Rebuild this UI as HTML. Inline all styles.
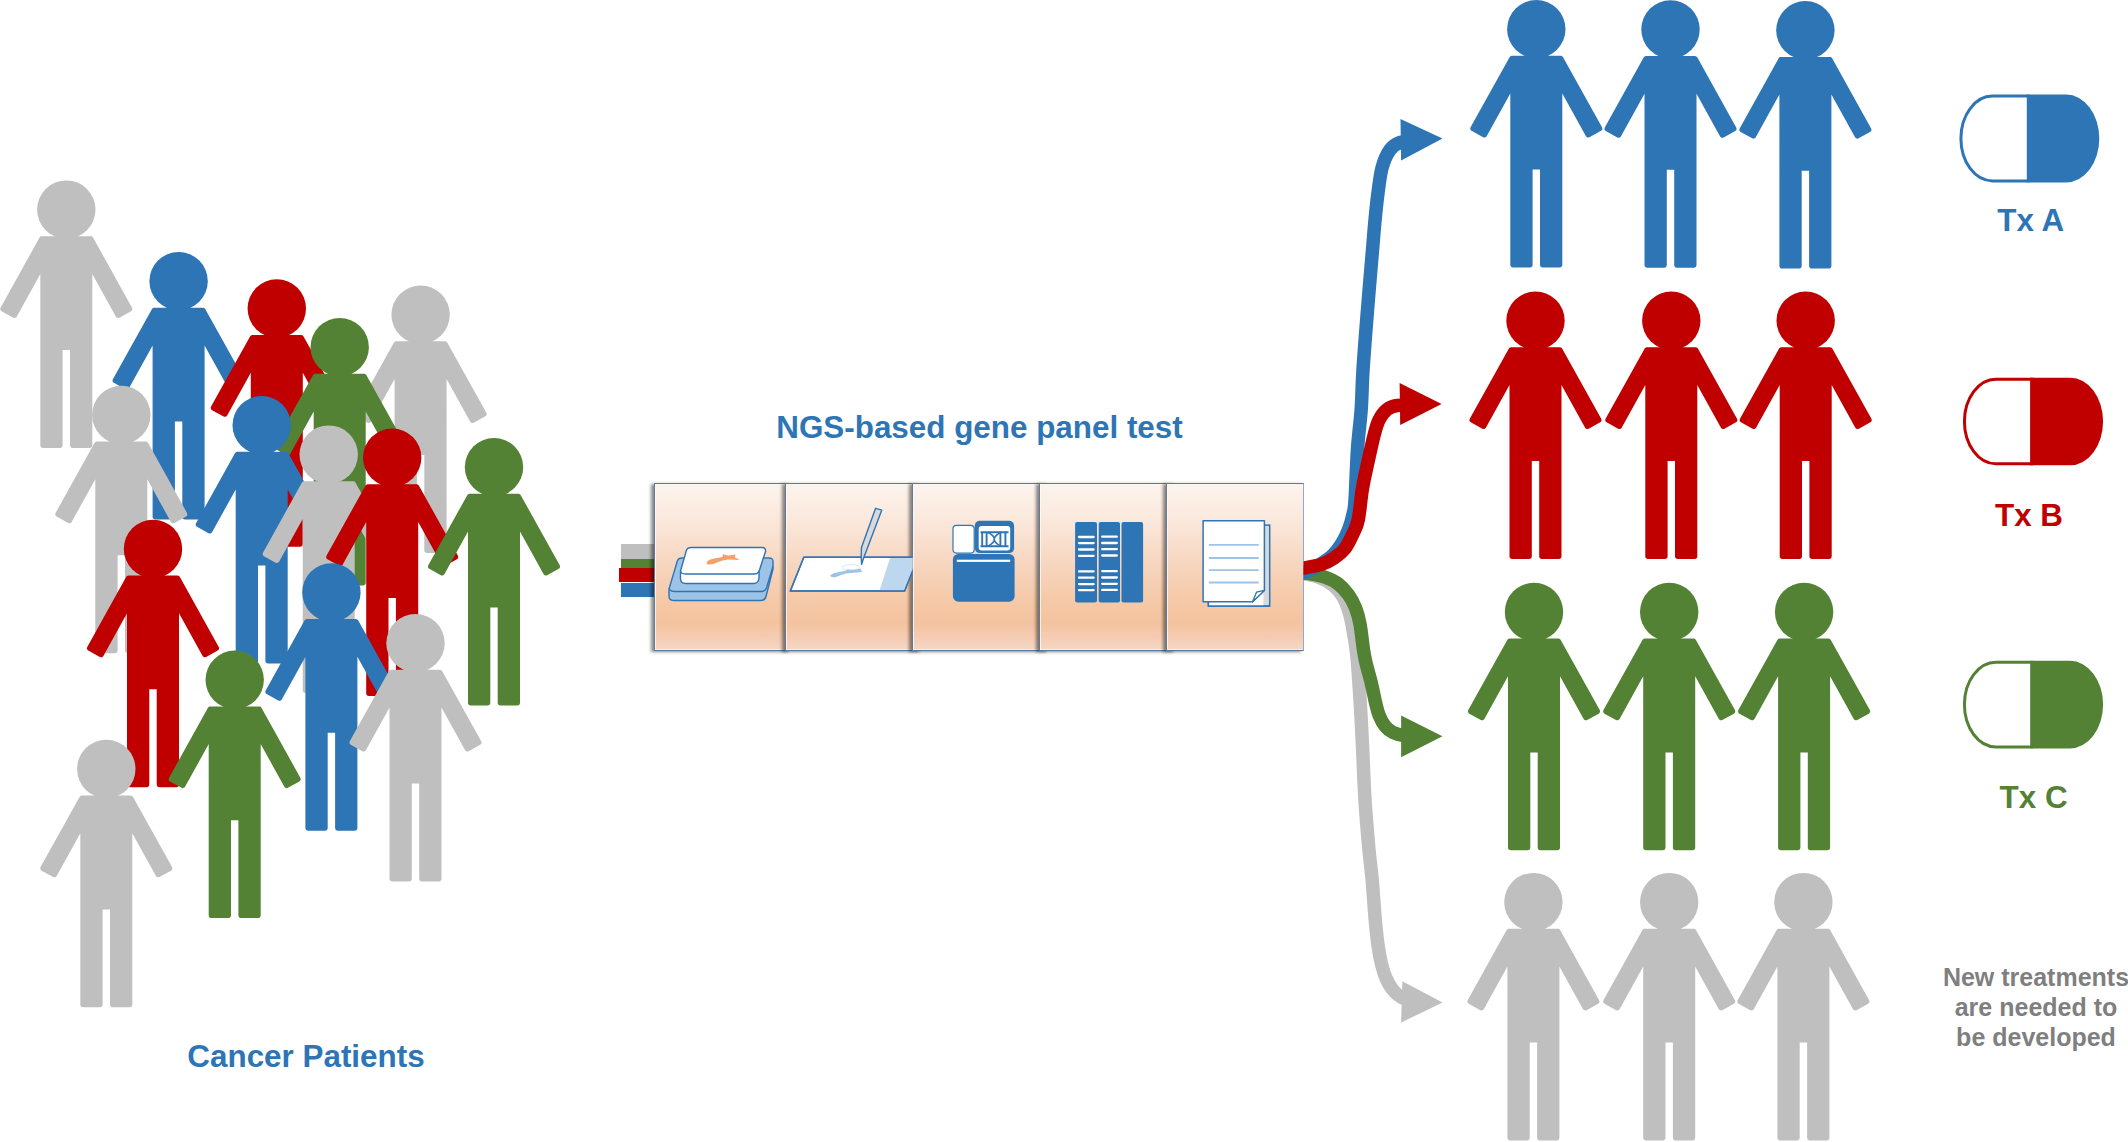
<!DOCTYPE html>
<html><head><meta charset="utf-8">
<style>
html,body{margin:0;padding:0;background:#fff;width:2128px;height:1142px;overflow:hidden;position:relative;}
svg{position:absolute;left:0;top:0;}
text{font-family:"Liberation Sans",sans-serif;font-weight:bold;}
.bars div{position:absolute;}
.cell{position:absolute;top:483px;height:168px;box-sizing:border-box;border:1px solid #4A7EC0;border-left-color:#5F7A9C;border-bottom-color:#5B789E;
 background:linear-gradient(#FDF4EE 0%,#FAE6D9 25%,#F7D6BF 48%,#F5C9A8 70%,#F4C3A0 84%,#F5CDB4 93%,#F4D8C6 100%);
 box-shadow:-3px 1px 3px rgba(0,0,0,0.45), inset 1px 0 0 rgba(255,250,240,0.8), inset 0 -1px 0 rgba(255,250,240,0.6);}
.cell.last{border-right-color:#8FAAD2;}
</style></head><body>
<svg width="2128" height="1142" viewBox="0 0 2128 1142">
<defs><path id="body" d="M-24.47,0 L-25.37,0.16 L-26.16,0.63 L-26.74,1.34 L-65.73,71.52 L-66.05,72.49 L-65.96,73.5 L-65.5,74.4 L-64.72,75.06 L-53.17,81.44 L-52.21,81.75 L-51.2,81.67 L-50.3,81.2 L-49.64,80.43 L-26,37.7 L-26,209.1 L-25.8,210.09 L-25.24,210.94 L-24.39,211.5 L-23.4,211.7 L-6.3,211.7 L-5.31,211.5 L-4.46,210.94 L-3.9,210.09 L-3.7,209.1 L-3.7,113.8 L3.7,113.8 L3.7,209.1 L3.9,210.09 L4.46,210.94 L5.31,211.5 L6.3,211.7 L23.4,211.7 L24.39,211.5 L25.24,210.94 L25.8,210.09 L26,209.1 L26,37.7 L49.64,80.43 L50.3,81.2 L51.2,81.67 L52.21,81.75 L53.17,81.44 L64.72,75.06 L65.5,74.4 L65.96,73.5 L66.05,72.49 L65.73,71.52 L26.74,1.34 L26.16,0.63 L25.37,0.16 L24.47,0Z"/></defs>
<g transform="translate(66.3,236.2)" fill="#BFBFBF"><circle cx="0" cy="-26.6" r="29.2"/><use href="#body"/></g>
<g transform="translate(178.6,307.8)" fill="#2E75B6"><circle cx="0" cy="-26.6" r="29.2"/><use href="#body"/></g>
<g transform="translate(276.8,335.1)" fill="#C00000"><circle cx="0" cy="-26.6" r="29.2"/><use href="#body"/></g>
<g transform="translate(420.6,341.3)" fill="#BFBFBF"><circle cx="0" cy="-26.6" r="29.2"/><use href="#body"/></g>
<g transform="translate(339.7,373.8)" fill="#548235"><circle cx="0" cy="-26.6" r="29.2"/><use href="#body"/></g>
<g transform="translate(121.3,441.5)" fill="#BFBFBF"><circle cx="0" cy="-26.6" r="29.2"/><use href="#body"/></g>
<g transform="translate(261.7,451.8)" fill="#2E75B6"><circle cx="0" cy="-26.6" r="29.2"/><use href="#body"/></g>
<g transform="translate(328.7,481.2)" fill="#BFBFBF"><circle cx="0" cy="-26.6" r="29.2"/><use href="#body"/></g>
<g transform="translate(392.2,484.3)" fill="#C00000"><circle cx="0" cy="-26.6" r="29.2"/><use href="#body"/></g>
<g transform="translate(494,493.8)" fill="#548235"><circle cx="0" cy="-26.6" r="29.2"/><use href="#body"/></g>
<g transform="translate(153,575.5)" fill="#C00000"><circle cx="0" cy="-26.6" r="29.2"/><use href="#body"/></g>
<g transform="translate(331.4,619)" fill="#2E75B6"><circle cx="0" cy="-26.6" r="29.2"/><use href="#body"/></g>
<g transform="translate(415.5,669.8)" fill="#BFBFBF"><circle cx="0" cy="-26.6" r="29.2"/><use href="#body"/></g>
<g transform="translate(234.7,706.4)" fill="#548235"><circle cx="0" cy="-26.6" r="29.2"/><use href="#body"/></g>
<g transform="translate(106.3,795.6)" fill="#BFBFBF"><circle cx="0" cy="-26.6" r="29.2"/><use href="#body"/></g>
<g transform="translate(1536.3,55.8)" fill="#2E75B6"><circle cx="0" cy="-26.6" r="29.2"/><use href="#body"/></g>
<g transform="translate(1670.5,56)" fill="#2E75B6"><circle cx="0" cy="-26.6" r="29.2"/><use href="#body"/></g>
<g transform="translate(1805.4,56.9)" fill="#2E75B6"><circle cx="0" cy="-26.6" r="29.2"/><use href="#body"/></g>
<g transform="translate(1535.5,347.3)" fill="#C00000"><circle cx="0" cy="-26.6" r="29.2"/><use href="#body"/></g>
<g transform="translate(1671.3,347.3)" fill="#C00000"><circle cx="0" cy="-26.6" r="29.2"/><use href="#body"/></g>
<g transform="translate(1805.7,347.3)" fill="#C00000"><circle cx="0" cy="-26.6" r="29.2"/><use href="#body"/></g>
<g transform="translate(1534,638.6)" fill="#548235"><circle cx="0" cy="-26.6" r="29.2"/><use href="#body"/></g>
<g transform="translate(1669.2,638.6)" fill="#548235"><circle cx="0" cy="-26.6" r="29.2"/><use href="#body"/></g>
<g transform="translate(1804.1,638.6)" fill="#548235"><circle cx="0" cy="-26.6" r="29.2"/><use href="#body"/></g>
<g transform="translate(1533.4,928.7)" fill="#BFBFBF"><circle cx="0" cy="-26.6" r="29.2"/><use href="#body"/></g>
<g transform="translate(1669.2,928.7)" fill="#BFBFBF"><circle cx="0" cy="-26.6" r="29.2"/><use href="#body"/></g>
<g transform="translate(1803.4,928.7)" fill="#BFBFBF"><circle cx="0" cy="-26.6" r="29.2"/><use href="#body"/></g>
<path d="M2028.3,94.6H2066.3A33,43.9 0 0 1 2066.3,182.4H2028.3Z" fill="#2E75B6"/><path d="M2028.3,96.1H1992.4A31.5,42.4 0 0 0 1992.4,180.9H2028.3" fill="#fff" stroke="#2E75B6" stroke-width="3"/><rect x="2026.8" y="94.6" width="3" height="87.8" fill="#2E75B6"/>
<path d="M2031.6,377.7H2070.1A33,43.8 0 0 1 2070.1,465.3H2031.6Z" fill="#C00000"/><path d="M2031.6,379.2H1995.9A31.5,42.3 0 0 0 1995.9,463.8H2031.6" fill="#fff" stroke="#C00000" stroke-width="3"/><rect x="2030.1" y="377.7" width="3" height="87.6" fill="#C00000"/>
<path d="M2031.7,660.8H2070.1A33,43.8 0 0 1 2070.1,748.4H2031.7Z" fill="#548235"/><path d="M2031.7,662.3H1995.9A31.5,42.3 0 0 0 1995.9,746.9H2031.7" fill="#fff" stroke="#548235" stroke-width="3"/><rect x="2030.2" y="660.8" width="3" height="87.6" fill="#548235"/>
<text x="979.5" y="437.8" fill="#2E75B6" font-size="31.4" text-anchor="middle">NGS-based gene panel test</text>
<text x="306" y="1066.8" fill="#2E75B6" font-size="31.4" text-anchor="middle">Cancer Patients</text>
<text x="2030.8" y="231.1" fill="#2E75B6" font-size="31.4" text-anchor="middle">Tx A</text>
<text x="2029" y="525.5" fill="#C00000" font-size="31.4" text-anchor="middle">Tx B</text>
<text x="2033.6" y="808.3" fill="#548235" font-size="31.4" text-anchor="middle">Tx C</text>
<text x="2036" y="985.7" fill="#7F7F7F" font-size="25" text-anchor="middle">New treatments</text>
<text x="2036" y="1015.7" fill="#7F7F7F" font-size="25" text-anchor="middle">are needed to</text>
<text x="2036" y="1045.9" fill="#7F7F7F" font-size="25" text-anchor="middle">be developed</text>
</svg>

<div class="bars">
  <div style="top:544.4px;height:14.2px;left:621.1px;width:33.4px;background:#BFBFBF"></div>
  <div style="top:558.6px;height:9.2px;left:621.1px;width:33.4px;background:#548235"></div>
  <div style="top:567.8px;height:14.2px;left:619.1px;width:35.4px;background:#C00000"></div>
  <div style="top:582.9px;height:13.8px;left:620.7px;width:33.8px;background:#2E75B6"></div>
</div>
<div class="cell" style="left:653.8px;width:137px"></div>
<div class="cell" style="left:785.2px;width:137px"></div>
<div class="cell" style="left:911.9px;width:137px"></div>
<div class="cell" style="left:1039px;width:137px"></div>
<div class="cell last" style="left:1165.9px;width:137.8px"></div>
<svg width="2128" height="1142" viewBox="0 0 2128 1142" style="position:absolute;left:0;top:0">
<defs><clipPath id="c1"><rect x="655" y="484" width="130" height="166"/></clipPath>
<clipPath id="c2"><rect x="786.5" y="484" width="125.9" height="166"/></clipPath></defs>

<g stroke="#2E75B6" stroke-width="1.4" stroke-linejoin="round">
  <path d="M677.5,560.5Q678.5,558 682,558H769Q773.5,558 773,562.5V569L766,596.5Q765,600.5 760.5,600.5H673.5Q669,600.5 669,596V589Z" fill="#9DC3E6"/>
  <path d="M669.5,589Q670.5,591.5 675,591.5H761Q765,591.5 766.5,588L773,566" fill="none"/>
  <path d="M686.5,550Q687.5,547.5 691,547.5H762Q766,547.5 765.5,551.5L759,571.5V578Q758.5,583.5 753.5,583.5H685.5Q680.5,583.5 680.5,578.5V571Z" fill="#fff"/>
  <path d="M680.5,571Q681,574 685.5,574H754Q758,574 759,571" fill="none"/>
</g>
<path d="M706.5,562.5Q708,559.5 714,558.5Q719,557.5 722.5,557L723,554Q726,555.5 729,555.5L735.5,554.5L735,557.5Q738,558.5 739.5,560Q734,559.5 728,559.5Q722,560 718,562Q712,565 708.5,564.5Q706,564 706.5,562.5Z" fill="#F4A06A"/>

<g clip-path="url(#c2)">
<path d="M803.8,557.2H918L904.6,591H790.3Z" fill="#fff" stroke="#3A74B4" stroke-width="1.5" stroke-linejoin="round"/>
<path d="M890.1,558H917L904,590.2H879.6Z" fill="#BDD7EE"/>
<path d="M803.8,557.2H918L904.6,591H790.3Z" fill="none" stroke="#3A74B4" stroke-width="1.5" stroke-linejoin="round"/>
<path d="M875.6,508.3L881.8,510.1L864,557L861.6,564.4L861.2,556L861.5,547.5Z" fill="#D9D9D9" stroke="#2E75B6" stroke-width="1.4" stroke-linejoin="round"/>
<ellipse cx="851" cy="567.3" rx="9" ry="2.6" fill="#fff" stroke="#CFE0F2" stroke-width="0.8"/>
<path d="M830,575.5Q833,572.5 842,571.5Q847,570.5 848,569L849,570Q856,570 860.5,568.5L862,572Q854,572.5 846,573.5Q840,575 836,577Q831,578 830,575.5Z" fill="#9DC3E6"/>

</g>
<rect x="953" y="525.3" width="21.2" height="27.8" rx="3.5" fill="#fff" stroke="#2E75B6" stroke-width="1.2"/>
<rect x="974.8" y="520.8" width="39.3" height="32.3" rx="5" fill="#2E75B6"/>
<rect x="978.7" y="526" width="31.5" height="24.5" rx="3" fill="#fff"/>
<g stroke="#2E75B6" stroke-width="1.9" fill="none">
  <path d="M980.5,532.2H1008.5M980.5,546.2H1008.5M982.2,532.2V546.2M1005.4,532.2V546.2M986.6,532.2V546.2M1000.4,532.2V546.2"/>
  <path d="M987.8,532.2Q1001,539.2 987.8,546.2M1001,532.2Q987.5,539.2 1001,546.2" stroke-width="1.6"/>
</g>
<rect x="952.9" y="554" width="61.7" height="47.7" rx="5.5" fill="#2E75B6"/>
<rect x="956.8" y="559.7" width="53.4" height="2.2" fill="#fff"/>

<g fill="#2E75B6">
 <rect x="1075.1" y="522.1" width="21.9" height="80.5" rx="2"/>
 <rect x="1098.7" y="522.1" width="21.3" height="80.5" rx="2"/>
 <rect x="1121.5" y="522.1" width="21.6" height="80.5" rx="2"/>
</g>
<g stroke="#fff" stroke-width="2.3" stroke-linecap="round">
 <path d="M1079,537H1093.6M1079,543.1H1093.6M1079,549.5H1093.6M1079,555.8H1093.6M1079,571.4H1093.6M1079,577.7H1093.6M1079,584.2H1093.6M1079,590.2H1093.6"/>
 <path d="M1102.2,536.7H1116.8M1102.2,543H1116.8M1102.2,549.2H1116.8M1102.2,555.5H1116.8M1102.2,571.2H1116.8M1102.2,577.5H1116.8M1102.2,583.8H1116.8M1102.2,589.9H1116.8"/>
</g>

<rect x="1208.4" y="525.1" width="61.3" height="81" fill="#D9D9D9" stroke="#2E75B6" stroke-width="1.5"/>
<rect x="1208.4" y="590" width="55" height="16.1" fill="#fff"/>
<path d="M1208.4,601.8V606.1H1269.7" fill="none" stroke="#2E75B6" stroke-width="1.5"/>
<path d="M1203.1,520.8H1264.4V590.4L1252.6,601.8H1203.1Z" fill="#fff" stroke="#2E75B6" stroke-width="1.5" stroke-linejoin="round"/>
<path d="M1252.6,601.8L1256.5,592.2L1264.4,590.4Z" fill="#fff" stroke="#2E75B6" stroke-width="1.3" stroke-linejoin="round"/>
<path d="M1208.8,544.8H1258.7M1208.8,558H1258.7M1208.8,570.2H1258.7M1208.8,582.5H1258.7" stroke="#9DC3E6" stroke-width="1.8"/>

</svg>

<svg width="2128" height="1142" viewBox="0 0 2128 1142">
<defs><clipPath id="ac"><rect x="1303.6" y="0" width="300" height="1142"/></clipPath></defs><g clip-path="url(#ac)"><path d="M1294,574C1295.58,574 1299.5,573.5 1303.5,574C1307.5,574.5 1313.03,575.1 1318,577C1322.97,578.9 1329.17,582.15 1333.3,585.4C1337.43,588.65 1340.22,592.23 1342.8,596.5C1345.38,600.77 1347.18,605.92 1348.8,611C1350.42,616.08 1351.27,620.5 1352.5,627C1353.73,633.5 1355.28,643 1356.2,650C1357.12,657 1357.27,659.17 1358,669C1358.73,678.83 1359.83,695.83 1360.6,709C1361.37,722.17 1361.87,732.83 1362.6,748C1363.33,763.17 1363.93,783 1365,800C1366.07,817 1367.8,836.67 1369,850C1370.2,863.33 1371.17,868.43 1372.2,880C1373.23,891.57 1374.22,908.45 1375.2,919.4C1376.18,930.35 1377.05,938.27 1378.1,945.7C1379.15,953.13 1380.18,958.62 1381.5,964C1382.82,969.38 1384.08,973.67 1386,978C1387.92,982.33 1390.17,986.67 1393,990C1395.83,993.33 1398.83,996.33 1403,998C1407.17,999.67 1415.5,999.67 1418,1000" fill="none" stroke="#BFBFBF" stroke-width="13.5"/><path d="M1402.4,981.2L1442.5,1002.5L1401.1,1022.6Z" fill="#BFBFBF"/>
<path d="M1294,573C1295.58,573 1300.5,572.83 1303.5,573C1306.5,573.17 1308.48,573.33 1312,574C1315.52,574.67 1320.32,575.42 1324.6,577C1328.88,578.58 1333.75,580.57 1337.7,583.5C1341.65,586.43 1345.33,590.55 1348.3,594.6C1351.27,598.65 1353.55,602.9 1355.5,607.8C1357.45,612.7 1358.67,616.97 1360,624C1361.33,631.03 1362.5,643.5 1363.5,650C1364.5,656.5 1364.72,657.57 1366,663C1367.28,668.43 1369.62,676.05 1371.2,682.6C1372.78,689.15 1374.2,696.9 1375.5,702.3C1376.8,707.7 1377.42,711.05 1379,715C1380.58,718.95 1382.67,723.08 1385,726C1387.33,728.92 1389.83,730.92 1393,732.5C1396.17,734.08 1399.83,734.92 1404,735.5C1408.17,736.08 1415.67,735.92 1418,736" fill="none" stroke="#548235" stroke-width="13.5"/><path d="M1401.1,715.4L1442.5,736.2L1401.1,757.2Z" fill="#548235"/>
<path d="M1294,574C1295.58,573.83 1299.33,574.5 1303.5,573C1307.67,571.5 1314.17,567.93 1319,565C1323.83,562.07 1328.67,559.07 1332.5,555.4C1336.33,551.73 1339.25,547.5 1342,543C1344.75,538.5 1347.17,533.22 1349,528.4C1350.83,523.58 1352,518.72 1353,514.1C1354,509.48 1354.25,511.55 1355,500.7C1355.75,489.85 1356.47,464.22 1357.5,449C1358.53,433.78 1360.28,422.57 1361.2,409.4C1362.12,396.23 1361.95,386.57 1363,370C1364.05,353.43 1365.92,330 1367.5,310C1369.08,290 1371.22,265.28 1372.5,250C1373.78,234.72 1374.28,227.8 1375.2,218.3C1376.12,208.8 1376.87,201.38 1378,193C1379.13,184.62 1380.08,175.08 1382,168C1383.92,160.92 1386.5,154.75 1389.5,150.5C1392.5,146.25 1395.25,144 1400,142.5C1404.75,141 1415,141.67 1418,141.5" fill="none" stroke="#2E75B6" stroke-width="13.5"/><path d="M1400.5,119.1L1442.5,138.6L1401.1,160.5Z" fill="#2E75B6"/>
<path d="M1294,569C1295.58,568.83 1298.95,568.77 1303.5,568C1308.05,567.23 1316.15,566.1 1321.3,564.4C1326.45,562.7 1330.47,560.43 1334.4,557.8C1338.33,555.17 1341.83,552.53 1344.9,548.6C1347.97,544.67 1350.58,538.97 1352.8,534.2C1355.02,529.43 1356.58,527.67 1358.2,520C1359.82,512.33 1360.87,497.88 1362.5,488.2C1364.13,478.52 1366.08,470.67 1368,461.9C1369.92,453.13 1372.17,442.58 1374,435.6C1375.83,428.62 1376.83,424.35 1379,420C1381.17,415.65 1384,411.92 1387,409.5C1390,407.08 1391.83,406.25 1397,405.5C1402.17,404.75 1414.5,405.08 1418,405" fill="none" stroke="#C00000" stroke-width="13.5"/><path d="M1399.6,383.1L1441.6,403.9L1400.2,425.1Z" fill="#C00000"/></g>
</svg>
</body></html>
